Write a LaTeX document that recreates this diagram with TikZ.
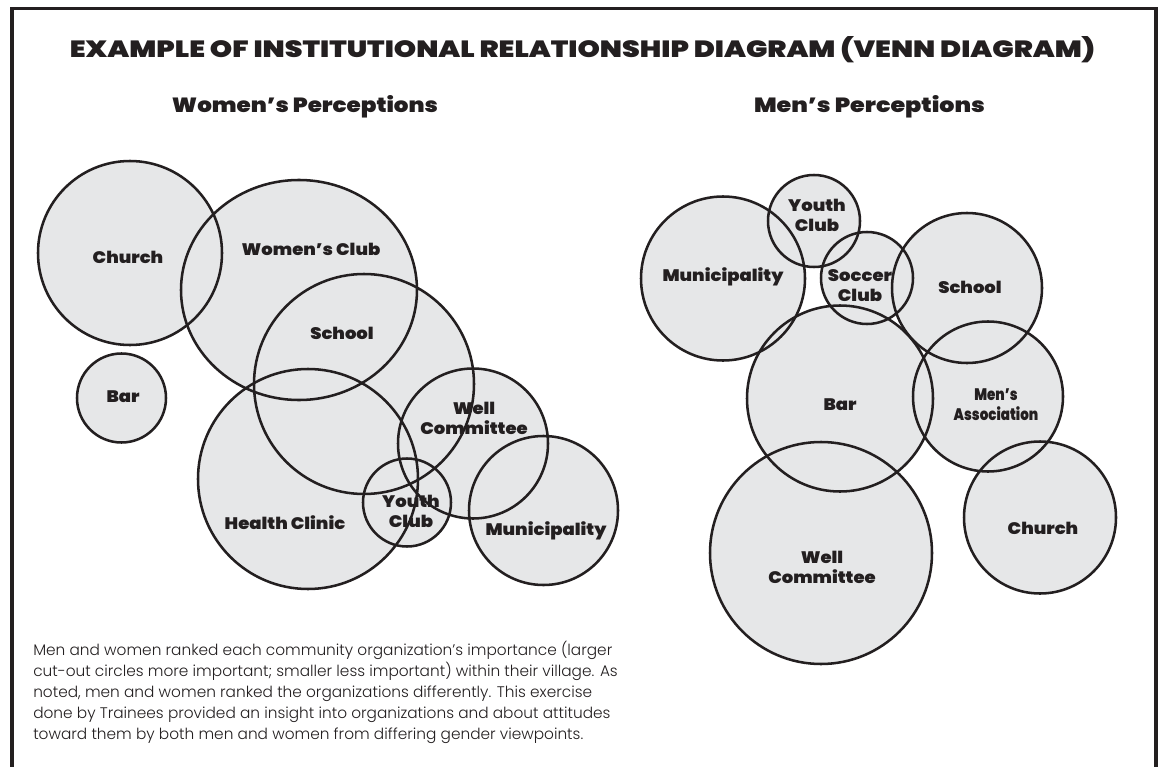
\documentclass[tikz,border=0pt]{standalone}
\usepackage{fontspec}
\usepackage{graphicx}
\usetikzlibrary{shapes.geometric}
\IfFontExistsTF{Poppins Black}%
  {\newfontfamily\heavy{Poppins Black}[FakeStretch=1.08]}%
  {\newfontfamily\heavyfam{Poppins}[FakeStretch=1.08]\newcommand\heavy{\heavyfam\bfseries}}
\IfFontExistsTF{Poppins Light}%
  {\newfontfamily\capfont{Poppins Light}}%
  {\newfontfamily\capfont{Poppins}}
\definecolor{vfill}{HTML}{E6E7E8}
\definecolor{ink}{HTML}{231F20}
\newcommand\vdisc[5]{\node[vshape, minimum width=#4*1.5pt, minimum height=#5*1.5pt] (#1) at (#2,#3) {};}
\newcommand\vring[3]{\draw[vedge] (#1.center) ellipse[x radius=#2*0.75pt, y radius=#3*0.75pt];}
\tikzset{
  vshape/.style={ellipse, fill=vfill, draw=none, inner sep=0pt, outer sep=0pt},
  vedge/.style={draw=ink, line width=1.9pt},
  lab/.style={font=\heavy\fontsize{12.5}{15}\selectfont, text=ink, align=center, inner sep=0pt},
  heading/.style={anchor=base, inner sep=0pt, text=ink},
}
\begin{document}
\begin{tikzpicture}[x=0.75pt,y=-0.75pt]
\useasboundingbox (0,0) rectangle (1160,767);
\fill[white] (0,0) rectangle (1160,767);
% frame
\draw[ink, line width=2.3pt] (12,767) -- (12,8.5) -- (1156,8.5) -- (1156,767);
% titles
\node[heading] (title) at (582.5,58) {\resizebox{768.75pt}{15.75pt}{\heavy EXAMPLE OF INSTITUTIONAL RELATIONSHIP DIAGRAM (VENN DIAGRAM)}};
\node[heading] (hwomen) at (305,112) {\resizebox{199.5pt}{12.75pt}{\heavy Women’s Perceptions}};
\node[heading] (hmen) at (869.5,112) {\resizebox{173.25pt}{12.75pt}{\heavy Men’s Perceptions}};
% ---- fills: women
\vdisc{wChurch}{130}{253}{92}{92}
\vdisc{wClub}{299}{290}{118}{110}
\vdisc{wSchool}{364}{384}{110}{110}
\vdisc{wHealth}{308}{479}{110}{110}
\vdisc{wBar}{121.5}{398}{44.5}{44.5}
\vdisc{wWell}{473}{443.5}{75}{75}
\vdisc{wYouth}{407}{502.5}{44}{44}
\vdisc{wMuni}{543.5}{510.5}{74.5}{74.5}
% ---- fills: men
\vdisc{mYouth}{814}{221}{46}{46}
\vdisc{mMuni}{723}{278.5}{82}{82}
\vdisc{mSoccer}{867}{278}{46}{46}
\vdisc{mSchool}{967}{288}{75}{75}
\vdisc{mBar}{840}{398.5}{93}{93}
\vdisc{mAssoc}{988}{396.5}{75}{75}
\vdisc{mChurch}{1040}{517.5}{76}{76}
\vdisc{mWell}{821}{553}{111}{111}
% ---- outlines
\vring{wChurch}{92}{92}
\vring{wClub}{118}{110}
\vring{wSchool}{110}{110}
\vring{wHealth}{110}{110}
\vring{wBar}{44.5}{44.5}
\vring{wWell}{75}{75}
\vring{wYouth}{44}{44}
\vring{wMuni}{74.5}{74.5}
\vring{mYouth}{46}{46}
\vring{mMuni}{82}{82}
\vring{mSoccer}{46}{46}
\vring{mSchool}{75}{75}
\vring{mBar}{93}{93}
\vring{mAssoc}{75}{75}
\vring{mChurch}{76}{76}
\vring{mWell}{111}{111}
% ---- labels: women
\node[lab] (lwChurch) at (128,257) {Church};
\node[lab] (lwClub) at (311,249) {Women’s Club};
\node[lab] (lwSchool) at (342,333) {School};
\node[lab] (lwBar) at (123,397) {Bar};
\node[lab] (lwWell) at (474,418) {Well\\Committee};
\node[lab] (lwYouth) at (411,511) {Youth\\Club};
\node[lab] (lwHealth) at (285,523) {Health Clinic};
\node[lab] (lwMuni) at (546,531) {Municipality};
% ---- labels: men
\node[lab] (lmYouth) at (817,215) {Youth\\Club};
\node[lab] (lmMuni) at (723,277) {Municipality};
\node[lab] (lmSoccer) at (860,286) {Soccer\\Club};
\node[lab] (lmSchool) at (970,287) {School};
\node[lab] (lmBar) at (840,405) {Bar};
\node[lab] (lmAssoc) at (996,405) {\scalebox{0.75}[1]{Men’s}\\\scalebox{0.75}[1]{Association}};
\node[lab] (lmChurch) at (1043,528) {Church};
\node[lab] (lmWell) at (822,567) {Well\\Committee};
% ---- caption
\node[anchor=north west, inner sep=0pt, align=left, text=ink,
      font=\capfont\fontsize{11.5}{15.75}\selectfont] (caption) at (33,641)
 {Men and women ranked each community organization’s importance (larger\\
  cut-out circles more important; smaller less important) within their village. As\\
  noted, men and women ranked the organizations differently. This exercise\\
  done by Trainees provided an insight into organizations and about attitudes\\
  toward them by both men and women from differing gender viewpoints.};
\end{tikzpicture}
\end{document}
